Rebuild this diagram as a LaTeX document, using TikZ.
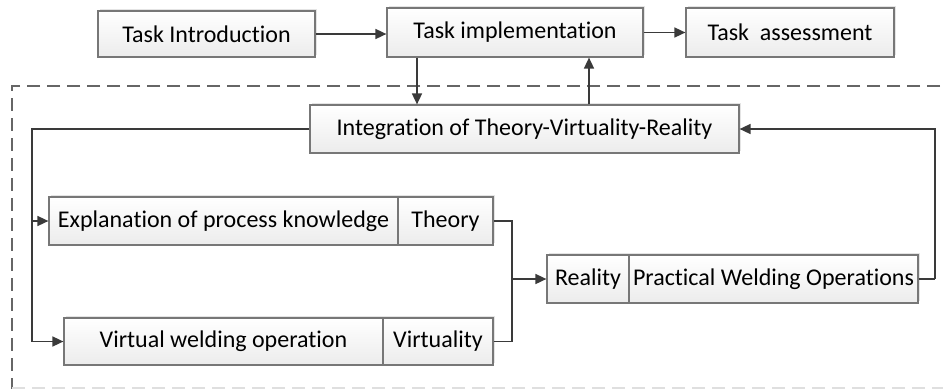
\documentclass[tikz,border=0pt]{standalone}
\usepackage{fontspec}
\setmainfont[Ligatures=NoCommon]{Carlito}
\usetikzlibrary{arrows.meta,shadows,calc}

\definecolor{linegray}{HTML}{3A3A3A}
\definecolor{boxedge}{HTML}{777777}
\definecolor{dashgray}{HTML}{666666}

\tikzset{
  box/.style={draw=boxedge, line width=1.2pt, top color=white, bottom color=gray!15,
    drop shadow={shadow xshift=2pt, shadow yshift=2pt, fill=gray!35, opacity=0.6},
    inner sep=0pt, font=\fontsize{24}{28}\selectfont, text=black},
  link/.style={draw=linegray, line width=1.6pt, -{Triangle[length=11pt,width=10pt]}},
  plain/.style={draw=linegray, line width=1.6pt},
  frame/.style={draw=dashgray, line width=1.6pt, dash pattern=on 13pt off 7pt}
}

\begin{document}
\begin{tikzpicture}[x=1pt,y=-1pt]
\useasboundingbox (0,0) rectangle (943,389);

% dashed group frame (continues past the right edge)
\draw[frame] (960,86) -- (12,86) -- (12,389);
\draw[draw=gray!25, line width=1.2pt, dash pattern=on 13pt off 7pt] (12,388) -- (960,388);

% top row
\node[box, minimum width=217pt, minimum height=46pt] (intro) at (206.5,34) {Task Introduction};
\node[box, minimum width=256pt, minimum height=49pt] (impl) at (515,32.5) {Task implementation};
\node[box, minimum width=208pt, minimum height=49pt] (assess) at (790,32.5) {Task\ \ assessment};

% integration node
\node[box, minimum width=429pt, minimum height=48pt] (integ) at (524.5,129) {Integration of Theory-Virtuality-Reality};

% theory row
\node[box, minimum width=349pt, minimum height=48pt] (expl) at (223.5,221) {Explanation of process knowledge};
\node[box, minimum width=95pt, minimum height=48pt] (theory) at (445.5,221) {Theory};

% virtuality row
\node[box, minimum width=319pt, minimum height=47pt] (virt) at (223.5,341.5) {Virtual welding operation};
\node[box, minimum width=110pt, minimum height=47pt] (virtu) at (438,341.5) {Virtuality};

% reality row
\node[box, minimum width=82pt, minimum height=48pt] (real) at (588,279) {Reality};
\node[box, minimum width=289pt, minimum height=48pt] (pract) at (773.5,279) {Practical Welding Operations};

% routing points
\coordinate (lbus) at (32,129);
\coordinate (lmid) at (32,221);
\coordinate (merge) at (512,279);
\coordinate (rbus) at (935,279);

% connectors
\draw[link] (intro.east) -- (intro.east -| impl.west);
\draw[link] (impl.east) -- (assess.west);
\draw[link] (impl.south -| 417,0) -- (integ.north -| 417,0);
\draw[link] (integ.north -| 589,0) -- (impl.south -| 589,0);

\draw[plain] (integ.west) -- (lbus) -- (lmid);
\draw[link] (lmid) -- (expl.west);
\draw[link] (lmid) |- (virt.west);

\draw[plain] (theory.east) -| (merge);
\draw[plain] (virtu.east) -| (merge);
\draw[link] (merge) -- (real.west);

\draw[plain] (pract.east) -- (rbus);
\draw[link] (rbus) |- (integ.east);
\end{tikzpicture}
\end{document}
